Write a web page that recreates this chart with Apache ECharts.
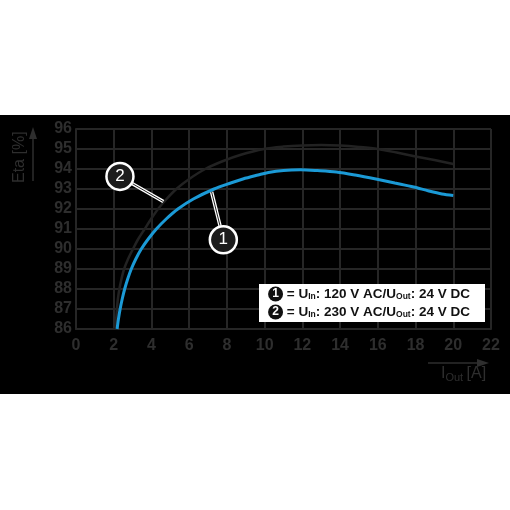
<!DOCTYPE html>
<html>
<head>
<meta charset="utf-8">
<script src="https://cdn.jsdelivr.net/npm/echarts@6/dist/echarts.min.js"></script>
<style>
  html, body { margin: 0; padding: 0; background: #fff; }
  #chart { width: 510px; height: 510px; }
</style>
</head>
<body>
<div id="chart"></div>
<script>
// 坐标轴刻度
var xTicks = [0, 2, 4, 6, 8, 10, 12, 14, 16, 18, 20, 22]
var yTicks = [86, 87, 88, 89, 90, 91, 92, 93, 94, 95, 96]

// 曲线 1: U_In 120 V AC
var load1 = [2.18, 2.25, 2.34, 2.45, 2.58, 2.74, 2.93, 3.17, 3.46, 3.83, 4.26, 4.78, 5.4, 6.22, 7.32, 8.2, 8.85, 9.65,
  10.2, 11.0, 11.9, 12.8, 13.8, 14.8, 15.9, 16.9, 17.9, 18.7, 19.4, 20.0]
var eta1 = [86, 86.5, 87, 87.5, 88, 88.5, 89, 89.5, 90, 90.5, 91, 91.5, 92, 92.5, 93, 93.3, 93.5, 93.7,
  93.83, 93.93, 93.96, 93.92, 93.85, 93.7, 93.5, 93.3, 93.1, 92.9, 92.75, 92.68]

// 曲线 2: U_In 230 V AC
var load2 = [2.1, 2.13, 2.17, 2.22, 2.3, 2.41, 2.55, 2.76, 3.02, 3.3, 3.64, 3.98, 4.35, 4.8, 5.32, 6.0, 6.85, 7.8,
  8.7, 9.95, 11.0, 12.0, 13.0, 14.0, 15.0, 16.0, 17.0, 18.0, 19.0, 20.0]
var eta2 = [86, 86.5, 87, 87.5, 88, 88.5, 89, 89.5, 90, 90.5, 91, 91.5, 92, 92.5, 93, 93.5, 94, 94.4,
  94.7, 95, 95.12, 95.18, 95.2, 95.17, 95.1, 95.0, 94.82, 94.63, 94.45, 94.25]

// 编号标注: 圆心位置, 引线起点/终点 (数据坐标)
var tagNames = ['1', '2']
var tagCenter = [[7.81, 90.46], [2.33, 93.63]]
var leaderFrom = [[7.64, 91.14], [2.97, 93.28]]
var leaderTo = [[7.19, 92.85], [4.63, 92.37]]

var gridColor = '#262626'
var textColor = '#2e2e2e'

function toPairs (xs, ys) {
  var out = []
  for (let i = 0; i < xs.length; i++) {
    out.push([xs[i], ys[i]])
  }
  return out
}

function leaderLines (color, width) {
  var data = []
  for (let i = 0; i < tagNames.length; i++) {
    data.push([{ coord: leaderFrom[i] }, { coord: leaderTo[i] }])
  }
  return {
    silent: true,
    symbol: ['none', 'none'],
    label: { show: false },
    lineStyle: { color: color, width: width, type: 'solid' },
    emphasis: { disabled: true },
    data: data
  }
}

function tagPoints () {
  var data = []
  for (let i = 0; i < tagNames.length; i++) {
    data.push({ name: tagNames[i], coord: tagCenter[i], value: tagNames[i] })
  }
  return {
    silent: true,
    symbol: 'circle',
    symbolSize: 27,
    itemStyle: { color: '#1c1c1c', borderColor: '#fff', borderWidth: 2.5 },
    label: {
      show: true,
      formatter: '{c}',
      color: '#fff',
      fontSize: 17,
      fontFamily: 'Liberation Sans'
    },
    data: data
  }
}

var legendRich = {
  n: {
    backgroundColor: '#111',
    fill: '#fff',
    width: 15,
    height: 15,
    borderRadius: 8,
    align: 'center',
    fontSize: 12,
    fontWeight: 'bold',
    fontFamily: 'Liberation Sans',
    lineHeight: 15
  },
  t: {
    fill: '#111',
    fontSize: 13.5,
    fontWeight: 'bold',
    fontFamily: 'Liberation Sans',
    lineHeight: 18
  },
  s: {
    fill: '#111',
    fontSize: 8.5,
    fontWeight: 'bold',
    fontFamily: 'Liberation Sans',
    padding: [6, 0, 0, 0],
    lineHeight: 18
  }
}

var chart = echarts.init(document.getElementById('chart'))
chart.setOption({
  animation: false,
  backgroundColor: 'transparent',
  grid: { left: 76, right: 19, top: 129, bottom: 181 },
  xAxis: {
    type: 'value',
    min: xTicks[0],
    max: xTicks[xTicks.length - 1],
    interval: 2,
    axisLine: { show: true, lineStyle: { color: gridColor, width: 2 } },
    axisTick: { show: false },
    axisLabel: { color: textColor, fontSize: 16, fontWeight: 'bold', fontFamily: 'Liberation Sans', margin: 9 },
    splitLine: { show: true, lineStyle: { color: gridColor, width: 2 } }
  },
  yAxis: {
    type: 'value',
    min: yTicks[0],
    max: yTicks[yTicks.length - 1],
    interval: 1,
    axisLine: { show: true, lineStyle: { color: gridColor, width: 2 } },
    axisTick: { show: false },
    axisLabel: { color: textColor, fontSize: 16, fontWeight: 'bold', fontFamily: 'Liberation Sans', margin: 4 },
    splitLine: { show: true, lineStyle: { color: gridColor, width: 2 } }
  },
  graphic: [
    // 黑色背景带
    { type: 'rect', z: -10, silent: true, shape: { x: 0, y: 115, width: 510, height: 279 }, style: { fill: '#000' } },
    // 纵轴名称和箭头
    {
      type: 'text', silent: true, rotation: Math.PI / 2, x: 12, y: 183,
      style: { text: 'Eta [%]', fill: textColor, fontSize: 16, fontFamily: 'Liberation Sans' }
    },
    { type: 'line', silent: true, shape: { x1: 33, y1: 181, x2: 33, y2: 136 }, style: { stroke: textColor, lineWidth: 1.5 } },
    { type: 'polygon', silent: true, shape: { points: [[33, 127], [29, 139], [37, 139]] }, style: { fill: textColor } },
    // 横轴名称和箭头
    { type: 'line', silent: true, shape: { x1: 428, y1: 363, x2: 480, y2: 363 }, style: { stroke: textColor, lineWidth: 1.5 } },
    { type: 'polygon', silent: true, shape: { points: [[489, 363], [477, 359], [477, 367]] }, style: { fill: textColor } },
    {
      type: 'text', silent: true, left: 441, top: 366,
      style: {
        text: '{i|I}{o|Out} {i|[A]}',
        rich: {
          i: { fill: textColor, fontSize: 16, fontFamily: 'Liberation Sans' },
          o: { fill: textColor, fontSize: 11, fontFamily: 'Liberation Sans', padding: [7, 0, 0, 0] }
        }
      }
    },
    // 图例框
    {
      type: 'text', silent: true, left: 259, top: 284, z: 100,
      style: {
        text: '{n|1}{t| = U}{s|In}{t|: 120 V AC/U}{s|Out}{t|: 24 V DC}\n{n|2}{t| = U}{s|In}{t|: 230 V AC/U}{s|Out}{t|: 24 V DC}',
        rich: legendRich,
        backgroundColor: '#fff',
        padding: [1, 10, 1, 4],
        width: 212
      }
    }
  ],
  series: [
    {
      name: '120 V AC',
      type: 'line',
      data: toPairs(load1, eta1),
      smooth: 0.3,
      showSymbol: false,
      lineStyle: { color: '#1b9ad6', width: 3 },
      z: 3
    },
    {
      name: '230 V AC',
      type: 'line',
      data: toPairs(load2, eta2),
      smooth: 0.3,
      showSymbol: false,
      lineStyle: { color: '#222', width: 2.5 },
      z: 2
    },
    {
      // 引线外框(白)
      type: 'line',
      data: [],
      z: 5,
      markLine: leaderLines('#fff', 3.5)
    },
    {
      // 引线中线 + 编号圆圈
      type: 'line',
      data: [],
      z: 6,
      markLine: leaderLines('#222', 1),
      markPoint: tagPoints()
    }
  ]
})
</script>
</body>
</html>
